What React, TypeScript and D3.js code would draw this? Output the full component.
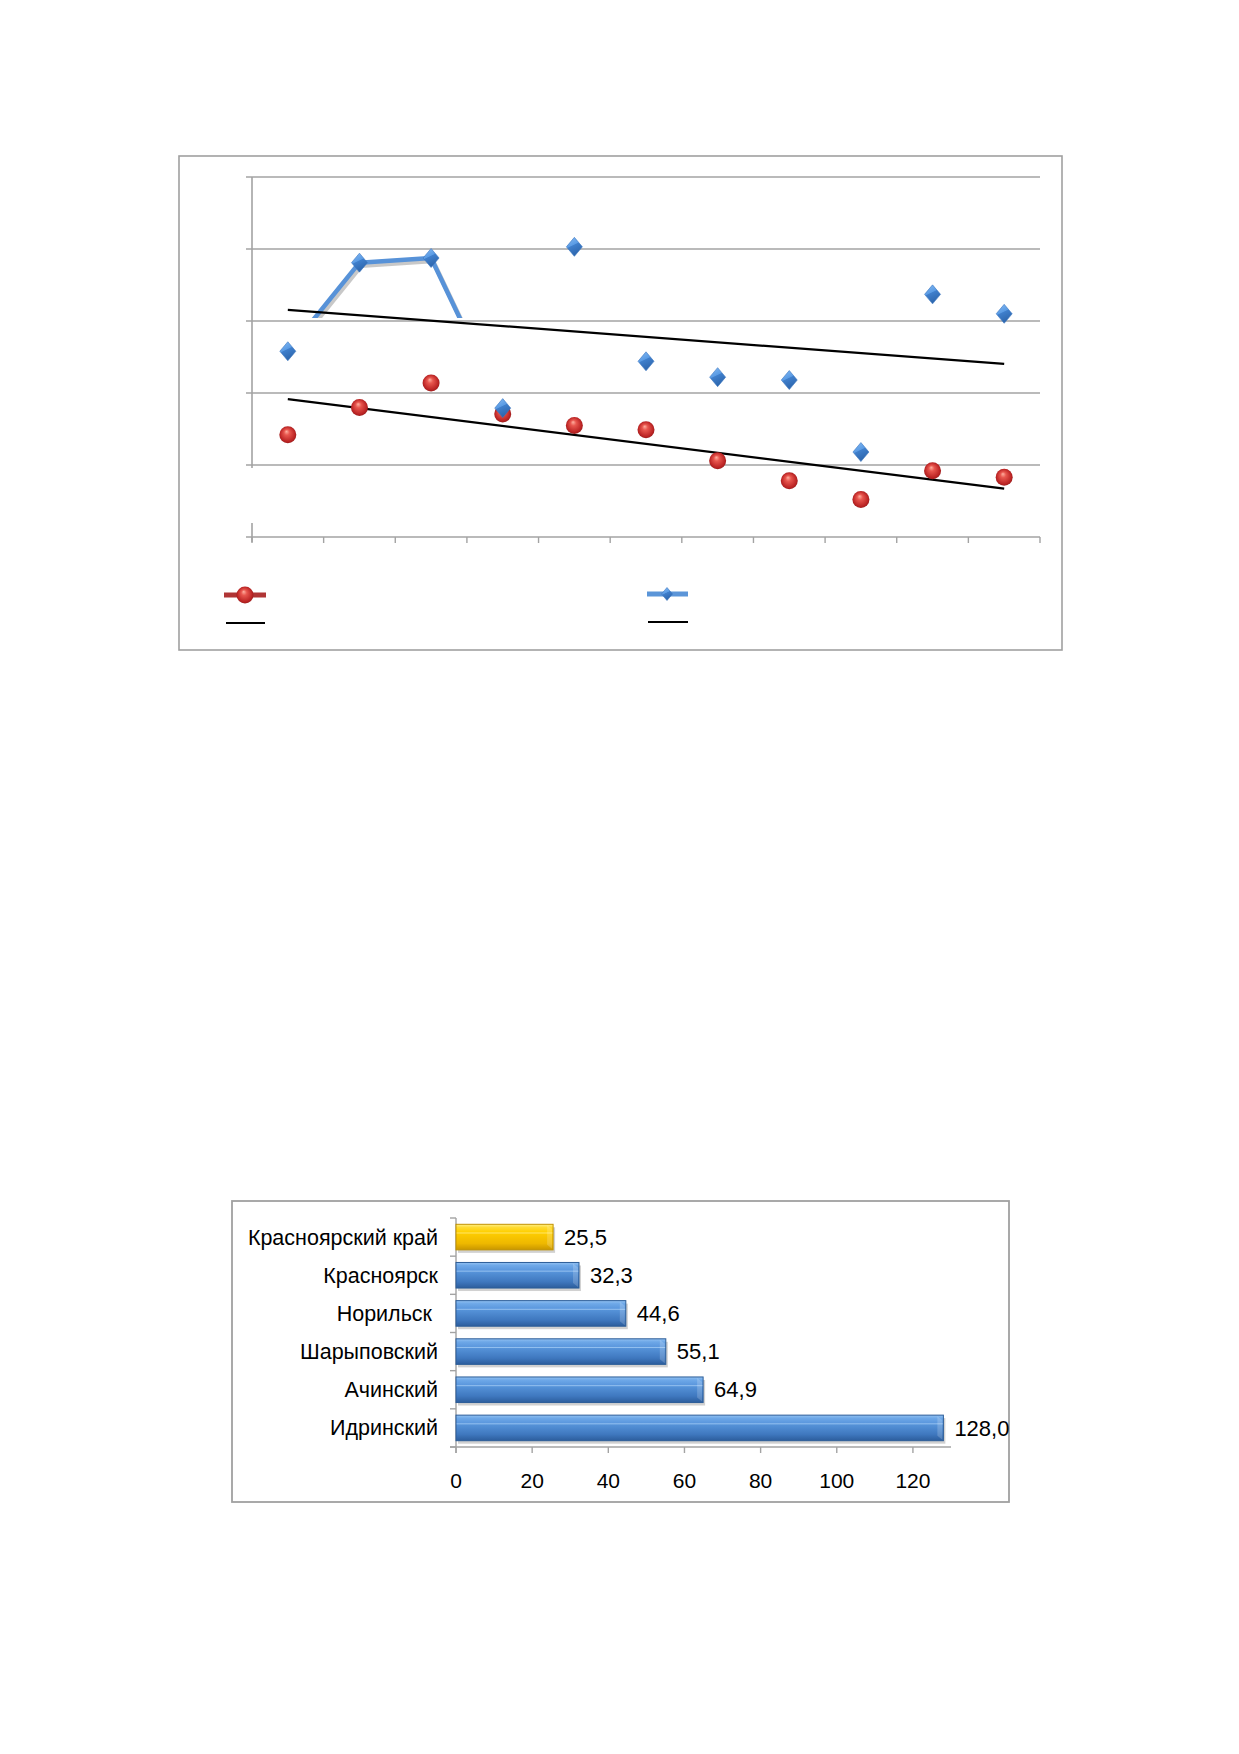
import React from "react";
import * as d3 from "d3";

// ---------- Chart 1 data (scatter with trend lines, no visible labels) ----------
const periods = ["1", "2", "3", "4", "5", "6", "7", "8", "9", "10", "11"];
const seriesRed = [1.42, 1.8, 2.14, 1.71, 1.55, 1.49, 1.06, 0.78, 0.52, 0.92, 0.83];
const seriesBlue = [2.58, 3.81, 3.875, 1.79, 4.03, 2.44, 2.22, 2.18, 1.18, 3.37, 3.1];
const blueLinePoints = 4; // only the first points are joined by a line
const yGridValues = [0, 1, 2, 3, 4, 5];

// ---------- Chart 2 data (horizontal bars) ----------
const barCategories = ["Красноярский край", "Красноярск", "Норильск ", "Шарыповский", "Ачинский", "Идринский"];
const barValues = [25.5, 32.3, 44.6, 55.1, 64.9, 128.0];
const barTicks = [0, 20, 40, 60, 80, 100, 120];
const highlightCategory = "Красноярский край";

const FONT = "'Liberation Sans', Arial, sans-serif";
const GRID = "#a3a3a3";

function fit(vals: number[]) {
  const xs = vals.map((_, i) => i);
  const mx = d3.mean(xs)!;
  const my = d3.mean(vals)!;
  let num = 0,
    den = 0;
  vals.forEach((v, i) => {
    num += (i - mx) * (v - my);
    den += (i - mx) * (i - mx);
  });
  const b = num / den;
  const a = my - b * mx;
  return (i: number) => a + b * i;
}

function Diamond({ x, y, w, h }: { x: number; y: number; w: number; h: number }) {
  const p = `M${x},${y - h / 2} L${x + w / 2},${y} L${x},${y + h / 2} L${x - w / 2},${y} Z`;
  return <path d={p} fill="url(#gDiamond)" stroke="#3a76bf" strokeWidth={0.6} />;
}

function Sphere({ x, y, r }: { x: number; y: number; r: number }) {
  return <circle cx={x} cy={y} r={r} fill="url(#gSphere)" />;
}

export default function App() {
  // ---- Chart 1 scales
  const x1 = d3.scaleBand<number>().domain(d3.range(periods.length)).range([252, 1040]);
  const cx = (i: number) => (x1(i) as number) + x1.bandwidth() / 2;
  const y1 = d3.scaleLinear().domain([0, 5]).range([537, 177]);
  const trendRed = fit(seriesRed);
  const trendBlue = fit(seriesBlue);
  const lineGen = d3
    .line<number>()
    .x((_, i) => cx(i))
    .y((d) => y1(d));
  const bluePath = lineGen(seriesBlue.slice(0, blueLinePoints)) || "";
  const last = periods.length - 1;
  const boundaries = d3.range(periods.length + 1).map((i) => 252 + i * x1.step());

  // ---- Chart 2 scales
  const xb = d3.scaleLinear().domain([0, 130]).range([456, 951]);
  const yb = d3.scaleBand<string>().domain(barCategories).range([1218, 1447]).paddingInner(0.33).paddingOuter(0.165);
  const step = yb.step();
  const bandEdges = d3.range(barCategories.length + 1).map((i) => 1218 + i * step);
  const fmt = (v: number) => d3.format(".1f")(v).replace(".", ",");

  return (
    <svg
      width={1239}
      height={1754}
      viewBox="0 0 1239 1754"
      style={{ position: "absolute", left: 0, top: 0, background: "#fff" }}
    >
      <defs>
        <radialGradient id="gSphere" cx="0.5" cy="0.5" r="0.55" fx="0.42" fy="0.3">
          <stop offset="0" stopColor="#ffb0a0" />
          <stop offset="0.3" stopColor="#e8564e" />
          <stop offset="0.8" stopColor="#bb2424" />
          <stop offset="1" stopColor="#8e1a1a" />
        </radialGradient>
        <linearGradient id="gDiamond" x1="0" y1="0" x2="0.4" y2="1">
          <stop offset="0" stopColor="#86bbf4" />
          <stop offset="0.48" stopColor="#5a9be4" />
          <stop offset="0.52" stopColor="#3f7fcc" />
          <stop offset="1" stopColor="#2d66ad" />
        </linearGradient>
        <linearGradient id="gBlueBar" x1="0" y1="0" x2="0" y2="1">
          <stop offset="0" stopColor="#93c2f2" />
          <stop offset="0.12" stopColor="#6ea8e8" />
          <stop offset="0.3" stopColor="#5c98de" />
          <stop offset="0.34" stopColor="#92bfef" />
          <stop offset="0.38" stopColor="#5592d8" />
          <stop offset="0.75" stopColor="#3f78bf" />
          <stop offset="1" stopColor="#2c5d9c" />
        </linearGradient>
        <linearGradient id="gYellowBar" x1="0" y1="0" x2="0" y2="1">
          <stop offset="0" stopColor="#fff08a" />
          <stop offset="0.12" stopColor="#ffdb33" />
          <stop offset="0.3" stopColor="#ffd000" />
          <stop offset="0.34" stopColor="#ffe566" />
          <stop offset="0.38" stopColor="#fccb00" />
          <stop offset="0.75" stopColor="#eeb800" />
          <stop offset="1" stopColor="#c89600" />
        </linearGradient>
        <clipPath id="clipBlueLine">
          <rect x={252} y={177} width={788} height={y1(3) - 3 - 177} />
        </clipPath>
      </defs>

      {/* ================= Chart 1 ================= */}
      <rect x={179} y={156} width={883} height={494} fill="#fff" stroke="#a0a0a0" strokeWidth={1.6} />

      {yGridValues.map((v) => (
        <line key={"g" + v} x1={246} x2={1040} y1={y1(v)} y2={y1(v)} stroke={GRID} strokeWidth={1.6} />
      ))}
      <line x1={252} x2={252} y1={177} y2={y1(1) + 3} stroke={GRID} strokeWidth={1.6} />
      <line x1={252} x2={252} y1={y1(0) - 14} y2={y1(0) + 5} stroke={GRID} strokeWidth={1.6} />
      {boundaries.map((bx, i) => (
        <line key={"bt" + i} x1={bx} x2={bx} y1={537} y2={543} stroke={GRID} strokeWidth={1.4} />
      ))}

      <g clipPath="url(#clipBlueLine)">
        <path d={bluePath} transform="translate(2,3)" fill="none" stroke="#9a9a9a" strokeOpacity={0.55} strokeWidth={4.5} />
        <path d={bluePath} fill="none" stroke="#5792d8" strokeWidth={4.5} strokeLinejoin="round" />
      </g>

      <line x1={cx(0)} x2={cx(last)} y1={y1(trendBlue(0))} y2={y1(trendBlue(last))} stroke="#000" strokeWidth={2.2} />
      <line x1={cx(0)} x2={cx(last)} y1={y1(trendRed(0))} y2={y1(trendRed(last))} stroke="#000" strokeWidth={2.2} />

      {seriesRed.map((v, i) => (
        <Sphere key={"r" + i} x={cx(i)} y={y1(v)} r={8.5} />
      ))}
      {seriesBlue.map((v, i) => (
        <Diamond key={"b" + i} x={cx(i)} y={y1(v)} w={16} h={19} />
      ))}

      {/* legend */}
      <line x1={224} x2={266} y1={595} y2={595} stroke="#b03535" strokeWidth={5} />
      <Sphere x={245} y={595} r={8.5} />
      <line x1={226} x2={265} y1={623} y2={623} stroke="#000" strokeWidth={2} />
      <line x1={647} x2={688} y1={594} y2={594} stroke="#5b95d8" strokeWidth={5} />
      <Diamond x={667} y={594} w={11} h={13} />
      <line x1={648} x2={688} y1={622} y2={622} stroke="#000" strokeWidth={2} />

      {/* ================= Chart 2 ================= */}
      <rect x={232} y={1201} width={777} height={301} fill="#fff" stroke="#a0a0a0" strokeWidth={1.8} />

      <line x1={456} x2={456} y1={1218} y2={1453} stroke={GRID} strokeWidth={1.4} />
      <line x1={450} x2={951} y1={1447} y2={1447} stroke={GRID} strokeWidth={1.4} />
      {bandEdges.map((by, i) => (
        <line key={"ce" + i} x1={450} x2={456} y1={by} y2={by} stroke={GRID} strokeWidth={1.4} />
      ))}
      {barTicks.map((t) => (
        <g key={"xt" + t}>
          <line x1={xb(t)} x2={xb(t)} y1={1447} y2={1453} stroke={GRID} strokeWidth={1.4} />
          <text x={xb(t)} y={1481} dy="0.35em" textAnchor="middle" fontFamily={FONT} fontSize={21} fill="#000">
            {t}
          </text>
        </g>
      ))}

      {barCategories.map((c, i) => {
        const y = yb(c) as number;
        const h = yb.bandwidth();
        const x0 = xb(0);
        const w = xb(barValues[i]) - x0;
        const isHi = c === highlightCategory;
        return (
          <g key={"bar" + i}>
            <rect x={x0 + 2} y={y + 3} width={w} height={h} fill="#000" opacity={0.18} />
            <rect
              x={x0}
              y={y}
              width={w}
              height={h}
              fill={isHi ? "url(#gYellowBar)" : "url(#gBlueBar)"}
              stroke={isHi ? "#c29200" : "#2c5d98"}
              strokeWidth={1}
            />
            <path
              d={`M${x0 + w - 6},${y + 1} L${x0 + w - 1},${y + 5} L${x0 + w - 1},${y + h - 1} L${x0 + w - 6},${y + h - 5} Z`}
              fill="#fff"
              opacity={0.18}
            />
            <text
              x={x0 - 18}
              y={y + h / 2}
              dy="0.35em"
              textAnchor="end"
              fontFamily={FONT}
              fontSize={21.5}
              fill="#000"
              style={{ whiteSpace: "pre" }}
            >
              {c}
            </text>
            <text x={xb(barValues[i]) + 11} y={y + h / 2} dy="0.35em" fontFamily={FONT} fontSize={22} fill="#000">
              {fmt(barValues[i])}
            </text>
          </g>
        );
      })}
    </svg>
  );
}
